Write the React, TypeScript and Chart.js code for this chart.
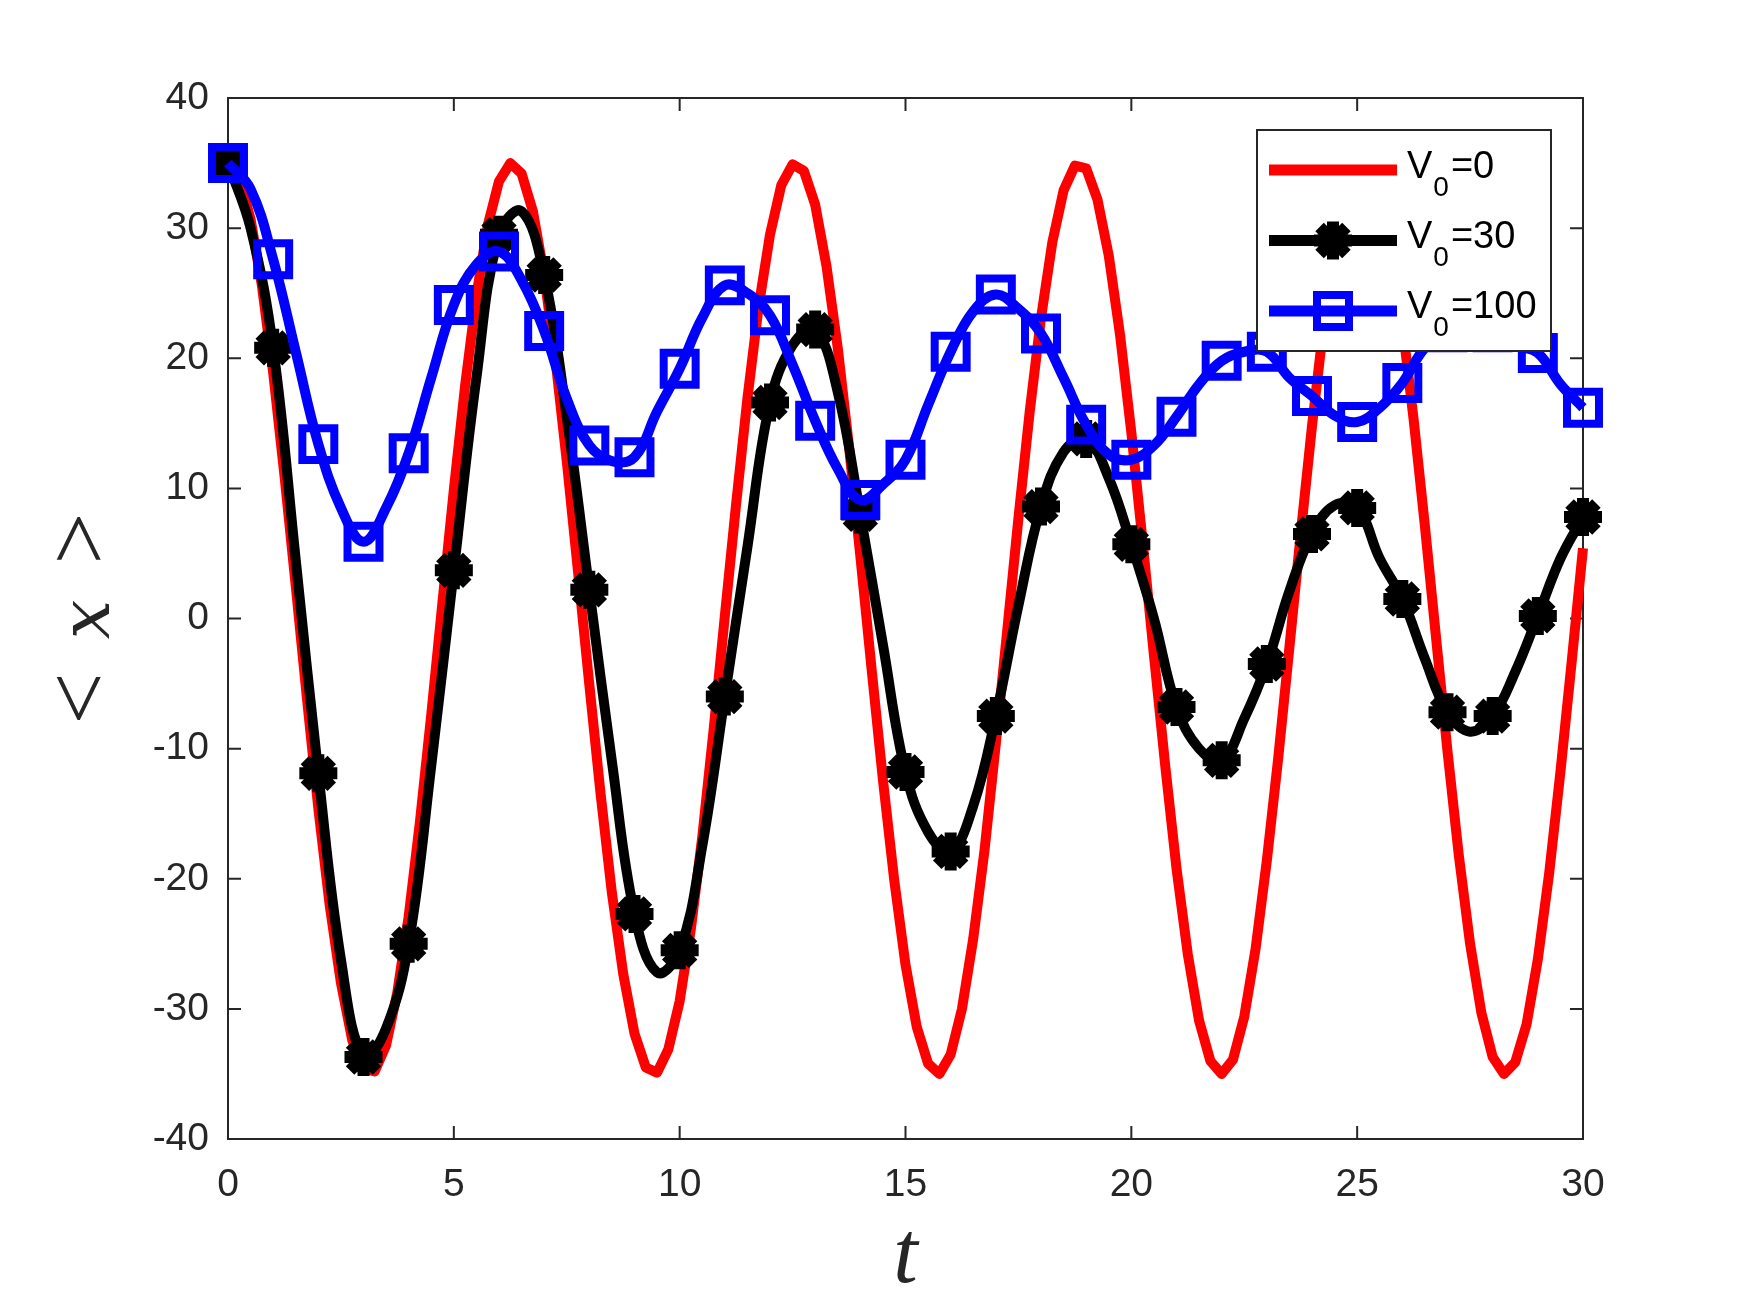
import { useEffect, useRef } from "react";
import { Chart, registerables } from "chart.js";

Chart.register(...registerables);

// time samples of the V0=0 curve
const tRed = [
  0, 0.25, 0.5, 0.75, 1, 1.25, 1.5, 1.75, 2, 2.25, 2.5, 2.75, 3, 3.25, 3.5, 3.75,
  4, 4.25, 4.5, 4.75, 5, 5.25, 5.5, 5.75, 6, 6.25, 6.5, 6.75, 7, 7.25, 7.5, 7.75,
  8, 8.25, 8.5, 8.75, 9, 9.25, 9.5, 9.75, 10, 10.25, 10.5, 10.75, 11, 11.25, 11.5, 11.75,
  12, 12.25, 12.5, 12.75, 13, 13.25, 13.5, 13.75, 14, 14.25, 14.5, 14.75, 15, 15.25, 15.5, 15.75,
  16, 16.25, 16.5, 16.75, 17, 17.25, 17.5, 17.75, 18, 18.25, 18.5, 18.75, 19, 19.25, 19.5, 19.75,
  20, 20.25, 20.5, 20.75, 21, 21.25, 21.5, 21.75, 22, 22.25, 22.5, 22.75, 23, 23.25, 23.5, 23.75,
  24, 24.25, 24.5, 24.75, 25, 25.25, 25.5, 25.75, 26, 26.25, 26.5, 26.75, 27, 27.25, 27.5, 27.75,
  28, 28.25, 28.5, 28.75, 29, 29.25, 29.5, 29.75, 30,
];

const xV0_0 = [
  35.0, 33.9, 30.7, 25.6, 18.9, 11.0, 2.5, -6.2, -14.6, -22.0, -28.0, -32.4, -34.6, -34.8, -32.8, -28.7,
  -22.9, -15.6, -7.4, 1.3, 9.9, 17.9, 24.8, 30.2, 33.6, 35.0, 34.2, 31.3, 26.4, 19.9, 12.1, 3.6,
  -5.1, -13.5, -21.1, -27.3, -31.9, -34.5, -34.9, -33.1, -29.4, -23.8, -16.8, -8.6, 0.2, 8.8, 16.9, 24.0,
  29.5, 33.3, 34.9, 34.4, 31.8, 27.1, 20.8, 13.2, 4.8, -3.9, -12.4, -20.1, -26.6, -31.4, -34.2, -35.0,
  -33.5, -30.0, -24.6, -17.8, -9.6, -1.0, 7.7, 15.9, 23.1, 28.9, 32.9, 34.8, 34.6, 32.2, 27.9, 21.8,
  14.3, 5.9, -2.8, -11.3, -19.2, -25.8, -30.9, -34.0, -35.0, -33.9, -30.6, -25.4, -18.6, -10.8, -2.2, 6.5,
  14.8, 22.3, 28.3, 32.5, 34.7, 34.8, 32.7, 28.5, 22.6, 15.3, 7.1, -1.6, -10.2, -18.2, -25.0, -30.3,
  -33.7, -35.0, -34.1, -31.2, -26.2, -19.6, -11.8, -3.3, 5.4,
];

// time samples of the V0=30 and V0=100 curves (markers sit on whole t)
const tFine = [
  0, 0.5, 1, 1.5, 2, 2.5, 3, 3.5, 4, 4.5, 5, 5.5, 6, 6.5, 7, 7.5, 8, 8.5, 9, 9.5,
  10, 10.5, 11, 11.5, 12, 12.5, 13, 13.5, 14, 14.5, 15, 15.5, 16, 16.5, 17, 17.5, 18, 18.5, 19, 19.5,
  20, 20.5, 21, 21.5, 22, 22.5, 23, 23.5, 24, 24.5, 25, 25.5, 26, 26.5, 27, 27.5, 28, 28.5, 29, 29.5, 30,
];

const xV0_30 = [
  35.0, 30.0, 20.8, 4.5, -11.9, -26.2, -33.7, -31.5, -25.0, -11.3, 3.7, 18.5, 29.5, 31.3, 26.4, 15.5, 2.2, -11.0, -22.7, -27.2,
  -25.5, -17.5, -6.0, 5.5, 16.6, 21.0, 22.2, 17.4, 8.0, -2.0, -11.8, -16.4, -17.9, -14.4, -7.5, 1.0, 8.6, 12.8, 13.8, 10.8,
  5.7, 0.0, -6.8, -10.0, -10.9, -7.7, -3.5, 2.1, 6.5, 8.7, 8.5, 4.6, 1.5, -3.1, -7.2, -8.7, -7.5, -4.1, 0.2, 4.6, 7.8,
];

const xV0_100 = [
  35.0, 33.0, 27.6, 20.5, 13.4, 8.5, 5.9, 8.5, 12.7, 18.5, 24.1, 27.2, 28.2, 26.0, 22.1, 16.9, 13.3, 12.1, 12.4, 15.9,
  19.2, 23.1, 25.6, 25.0, 23.3, 19.5, 15.2, 11.5, 9.1, 10.3, 12.2, 16.4, 20.5, 23.6, 24.9, 23.8, 21.9, 18.5, 14.9, 12.6,
  12.2, 13.3, 15.5, 18.0, 19.8, 20.5, 20.5, 18.5, 17.1, 15.6, 15.1, 16.2, 18.1, 20.8, 22.0, 22.5, 22.0, 21.0, 20.4, 18.0, 16.2,
];

const seriesLabels = ["V0=0", "V0=30", "V0=100"];
const seriesColors = ["#ff0000", "#000000", "#0000ff"];

const AXIS_COLOR = "#262626";
const TICK_LEN = 13;

const onWholeT = (i: number) => tFine[i] % 1 === 0;

// box around the axes with inward ticks on all four sides
const framePlugin = {
  id: "frame",
  beforeDatasetsDraw(chart: any) {
    const { ctx, chartArea: a, scales } = chart;
    ctx.save();
    ctx.strokeStyle = AXIS_COLOR;
    ctx.lineWidth = 2;
    ctx.strokeRect(a.left, a.top, a.right - a.left, a.bottom - a.top);
    ctx.beginPath();
    scales.x.ticks.forEach((tk: any) => {
      const px = scales.x.getPixelForValue(tk.value);
      ctx.moveTo(px, a.bottom);
      ctx.lineTo(px, a.bottom - TICK_LEN);
      ctx.moveTo(px, a.top);
      ctx.lineTo(px, a.top + TICK_LEN);
    });
    scales.y.ticks.forEach((tk: any) => {
      const py = scales.y.getPixelForValue(tk.value);
      ctx.moveTo(a.left, py);
      ctx.lineTo(a.left + TICK_LEN, py);
      ctx.moveTo(a.right, py);
      ctx.lineTo(a.right - TICK_LEN, py);
    });
    ctx.stroke();
    ctx.restore();
  },
};

function drawStar(ctx: CanvasRenderingContext2D, x: number, y: number, r: number) {
  ctx.beginPath();
  for (let k = 0; k < 4; k++) {
    const ang = (k * Math.PI) / 4;
    ctx.moveTo(x - Math.cos(ang) * r, y - Math.sin(ang) * r);
    ctx.lineTo(x + Math.cos(ang) * r, y + Math.sin(ang) * r);
  }
  ctx.stroke();
}

// axis labels in math style: t and < x >
const titlesPlugin = {
  id: "titles",
  afterDraw(chart: any) {
    const { ctx, chartArea: a } = chart;
    ctx.save();
    ctx.fillStyle = AXIS_COLOR;
    ctx.textAlign = "center";
    ctx.textBaseline = "alphabetic";
    ctx.font = "italic 88px 'Liberation Serif'";
    ctx.fillText("t", (a.left + a.right) / 2, 1282);

    ctx.translate(87, (a.top + a.bottom) / 2);
    ctx.rotate(-Math.PI / 2);
    ctx.font = "92px 'Liberation Serif'";
    ctx.fillText("<", -80, 22);
    ctx.fillText(">", 80, 22);
    ctx.font = "italic 70px 'DejaVu Serif'";
    ctx.fillText("x", -1, 22);
    ctx.restore();
  },
};

const legendPlugin = {
  id: "boxLegend",
  afterDraw(chart: any) {
    const ctx: CanvasRenderingContext2D = chart.ctx;
    const box = { left: 1257, top: 130, right: 1551, bottom: 351 };
    ctx.save();
    ctx.fillStyle = "#ffffff";
    ctx.fillRect(box.left, box.top, box.right - box.left, box.bottom - box.top);
    ctx.strokeStyle = AXIS_COLOR;
    ctx.lineWidth = 2;
    ctx.strokeRect(box.left, box.top, box.right - box.left, box.bottom - box.top);

    seriesLabels.forEach((label, i) => {
      const yLine = 170 + i * 70.5;
      const yBase = 178 + i * 70;
      ctx.strokeStyle = seriesColors[i];
      ctx.lineWidth = 11;
      ctx.lineCap = "butt";
      ctx.beginPath();
      ctx.moveTo(1269, yLine);
      ctx.lineTo(1397, yLine);
      ctx.stroke();
      if (i === 1) {
        ctx.lineWidth = 12;
        drawStar(ctx, 1333, yLine, 19);
      } else if (i === 2) {
        ctx.lineWidth = 8;
        ctx.strokeRect(1333 - 16, yLine - 16, 32, 32);
      }

      const rest = label.slice(2);
      ctx.fillStyle = "#000000";
      ctx.textAlign = "left";
      ctx.textBaseline = "alphabetic";
      let x = 1407;
      ctx.font = "38px 'Liberation Sans'";
      ctx.fillText("V", x, yBase);
      x += ctx.measureText("V").width + 1;
      ctx.font = "28px 'Liberation Sans'";
      ctx.fillText("0", x, yBase + 18);
      x += ctx.measureText("0").width + 2;
      ctx.font = "38px 'Liberation Sans'";
      ctx.fillText(rest, x, yBase);
    });
    ctx.restore();
  },
};

const tickFont = { family: "'Liberation Sans', Arial, sans-serif", size: 39 };

export default function App() {
  const canvasRef = useRef<HTMLCanvasElement | null>(null);

  useEffect(() => {
    document.body.style.margin = "0";
    if (!canvasRef.current) return;

    const chart = new Chart(canvasRef.current, {
      type: "line",
      data: {
        datasets: [
          {
            label: seriesLabels[0],
            data: tRed.map((t, i) => ({ x: t, y: xV0_0[i] })),
            borderColor: seriesColors[0],
            borderWidth: 10,
            pointRadius: 0,
            tension: 0,
            borderJoinStyle: "round",
            clip: false,
            order: 3,
          },
          {
            label: seriesLabels[1],
            data: tFine.map((t, i) => ({ x: t, y: xV0_30[i] })),
            borderColor: seriesColors[1],
            borderWidth: 10,
            tension: 0.4,
            borderJoinStyle: "round",
            pointStyle: "star",
            pointRadius: (c: any) => (onWholeT(c.dataIndex) ? 19 : 0),
            pointBorderWidth: 12,
            pointBorderColor: seriesColors[1],
            pointBackgroundColor: seriesColors[1],
            clip: false,
            order: 2,
          },
          {
            label: seriesLabels[2],
            data: tFine.map((t, i) => ({ x: t, y: xV0_100[i] })),
            borderColor: seriesColors[2],
            borderWidth: 10,
            tension: 0.4,
            borderJoinStyle: "round",
            pointStyle: "rect",
            pointRadius: (c: any) => (onWholeT(c.dataIndex) ? 22.6 : 0),
            pointBorderWidth: 8,
            pointBorderColor: seriesColors[2],
            pointBackgroundColor: "rgba(0,0,0,0)",
            clip: false,
            order: 1,
          },
        ],
      },
      options: {
        animation: false,
        responsive: false,
        devicePixelRatio: 1,
        layout: { padding: { left: 0, top: 98, right: 167, bottom: 74 } },
        plugins: {
          legend: { display: false },
          tooltip: { enabled: false },
        },
        scales: {
          x: {
            type: "linear",
            min: 0,
            max: 30,
            afterFit: (s: any) => {
              s.height = 100;
            },
            grid: { display: false, drawTicks: false },
            border: { display: false },
            ticks: { stepSize: 5, padding: 23, font: tickFont, color: AXIS_COLOR, maxRotation: 0 },
          },
          y: {
            type: "linear",
            min: -40,
            max: 40,
            afterFit: (s: any) => {
              s.width = 228;
            },
            grid: { display: false, drawTicks: false },
            border: { display: false },
            ticks: { stepSize: 10, padding: 19, font: tickFont, color: AXIS_COLOR },
          },
        },
      },
      plugins: [framePlugin, titlesPlugin, legendPlugin],
    });

    return () => {
      chart.destroy();
    };
  }, []);

  return (
    <canvas
      ref={canvasRef}
      width={1750}
      height={1313}
      style={{ display: "block", width: 1750, height: 1313 }}
    />
  );
}
